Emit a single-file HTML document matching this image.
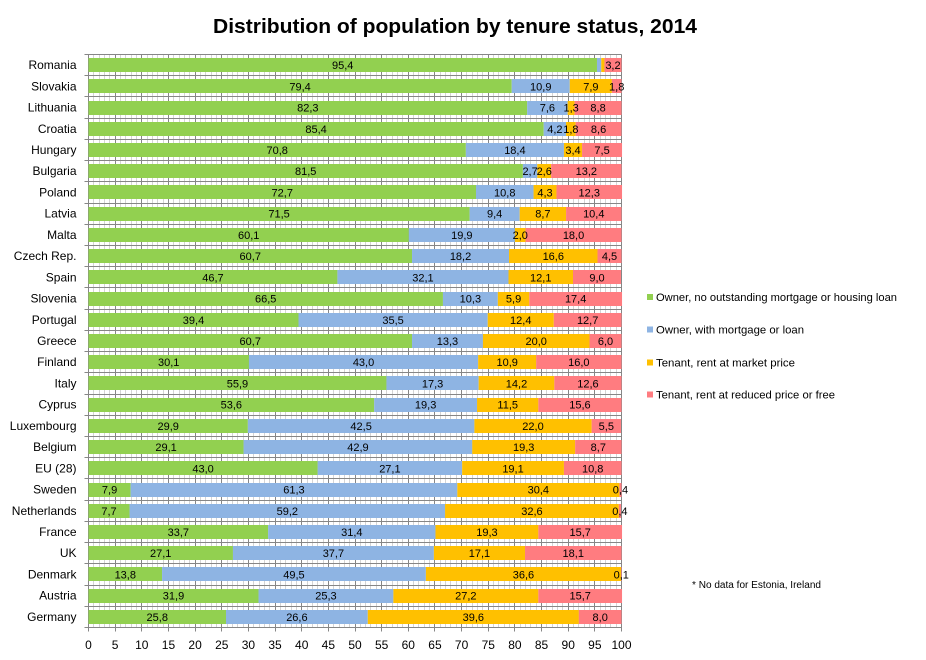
<!DOCTYPE html>
<html lang="en">
<head>
<meta charset="utf-8">
<title>Distribution of population by tenure status, 2014</title>
<style>
html,body{margin:0;padding:0;background:#fff;}
#chart{display:block;width:926px;height:660px;font-family:"Liberation Sans",sans-serif;}
</style>
</head>
<body>
<svg id="chart" xmlns="http://www.w3.org/2000/svg" width="926" height="660" viewBox="0 0 926 660"></svg>
<script>
const categories = ["Romania","Slovakia","Lithuania","Croatia","Hungary","Bulgaria","Poland","Latvia","Malta","Czech Rep.","Spain","Slovenia","Portugal","Greece","Finland","Italy","Cyprus","Luxembourg","Belgium","EU (28)","Sweden","Netherlands","France","UK","Denmark","Austria","Germany"];
const ownerOutright = [95.4,79.4,82.3,85.4,70.8,81.5,72.7,71.5,60.1,60.7,46.7,66.5,39.4,60.7,30.1,55.9,53.6,29.9,29.1,43.0,7.9,7.7,33.7,27.1,13.8,31.9,25.8];
const ownerMortgage = [0.8,10.9,7.6,4.2,18.4,2.7,10.8,9.4,19.9,18.2,32.1,10.3,35.5,13.3,43.0,17.3,19.3,42.5,42.9,27.1,61.3,59.2,31.4,37.7,49.5,25.3,26.6];
const tenantMarket = [0.6,7.9,1.3,1.8,3.4,2.6,4.3,8.7,2.0,16.6,12.1,5.9,12.4,20.0,10.9,14.2,11.5,22.0,19.3,19.1,30.4,32.6,19.3,17.1,36.6,27.2,39.6];
const tenantReduced = [3.2,1.8,8.8,8.6,7.5,13.2,12.3,10.4,18.0,4.5,9.0,17.4,12.7,6.0,16.0,12.6,15.6,5.5,8.7,10.8,0.4,0.4,15.7,18.1,0.1,15.7,8.0];
const seriesNames = ["Owner, no outstanding mortgage or housing loan","Owner, with mortgage or loan","Tenant, rent at market price","Tenant, rent at reduced price or free"];
const xTickLabels = [0,5,10,15,20,25,30,35,40,45,50,55,60,65,70,75,80,85,90,95,100];
const xMinorTicks = [0,1,2,3,4,5,6,7,8,9,10,11,12,13,14,15,16,17,18,19,20,21,22,23,24,25,26,27,28,29,30,31,32,33,34,35,36,37,38,39,40,41,42,43,44,45,46,47,48,49,50,51,52,53,54,55,56,57,58,59,60,61,62,63,64,65,66,67,68,69,70,71,72,73,74,75,76,77,78,79,80,81,82,83,84,85,86,87,88,89,90,91,92,93,94,95,96,97,98,99,100];
const unlabelledCells = ["Romania|1","Romania|2"];
const seriesValues = [ownerOutright, ownerMortgage, tenantMarket, tenantReduced];
const seriesColors = ["#92D050","#8EB4E3","#FFC000","#FF7C80"];
const seriesKeys = ["owner-outright","owner-mortgage","tenant-market","tenant-reduced"];

const NS = "http://www.w3.org/2000/svg";
const svg = document.getElementById("chart");
const plotLeft = 88.5, plotRight = 621.5, plotTop = 54.5, plotBottom = 627.5;
const bandHeight = (plotBottom - plotTop) / categories.length;
const barHeight = 14;

function xScale(v) { return plotLeft + (plotRight - plotLeft) * v / 100; }
function yBand(i) { return plotTop + bandHeight * i; }
function snap(p) { return Math.round(p - 0.5) + 0.5; }
function make(tag, props, text) {
  const el = document.createElementNS(NS, tag);
  for (const k in props) el.setAttribute(k, props[k]);
  if (text !== undefined) el.textContent = text;
  svg.appendChild(el);
  return el;
}

// Title
const title = make("text", {x:213, y:33, "font-size":20, "font-weight":"bold", fill:"#000", textLength:484, lengthAdjust:"spacingAndGlyphs"}, "Distribution of population by tenure status, 2014");



// Minor vertical gridlines
xMinorTicks.forEach(function (t) {
  if (t % 5 === 0) return;
  const line = make("line", {x1:snap(xScale(t)), x2:snap(xScale(t)), y1:plotTop, y2:plotBottom, stroke:"#d4d4d4", "stroke-width":1});
  
  
});

// Major horizontal gridlines and category ticks
for (let i = 0; i <= categories.length; i++) {
  const y = snap(yBand(i));
  const line = make("line", {x1:plotLeft - 4, x2:plotRight, y1:y, y2:y, stroke:"#868686", "stroke-width":1});
  
  
}

// Major vertical gridlines, ticks and labels
xTickLabels.forEach(function (t) {
  const x = snap(xScale(t));
  const line = make("line", {x1:x, x2:x, y1:plotTop, y2:plotBottom + 4, stroke:"#868686", "stroke-width":1});
  
  
  const label = make("text", {x:xScale(t), y:649, "font-size":12, "text-anchor":"middle", fill:"#000"}, String(t));
  
  
});

// Category labels
categories.forEach(function (c, i) {
  const label = make("text", {x:76.5, y:yBand(i) + bandHeight / 2 + 4, "font-size":12, "text-anchor":"end", fill:"#000"}, c);
  
  
});

// Stacked bars
categories.forEach(function (c, i) {
  let cum = 0;
  const top = Math.round(yBand(i) + (bandHeight - barHeight) / 2);
  seriesValues.forEach(function (vals, s) {
    const v = vals[i];
    const x0 = xScale(cum), x1 = xScale(cum + v);
    const bar = make("rect", {x:x0, y:top, width:x1 - x0, height:barHeight, fill:seriesColors[s]});
    
    
    cum += v;
  });
});

// Value labels (drawn after all bars so overflow stays on top)
categories.forEach(function (c, i) {
  let cum = 0;
  const mid = yBand(i) + bandHeight / 2 + 4;
  seriesValues.forEach(function (vals, s) {
    const v = vals[i];
    if (unlabelledCells.indexOf(c + "|" + s) < 0) {
      const label = make("text", {x:xScale(cum + v / 2), y:mid, "font-size":11, "text-anchor":"middle", fill:"#000"}, v.toFixed(1).replace(".", ","));
      
      
    }
    cum += v;
  });
});

// Legend
const legendMidY = [297, 329.5, 362.5, 394.5];
const legendWidths = [241, 148, 139, 179];
seriesNames.forEach(function (name, s) {
  const swatch = make("rect", {x:647, y:legendMidY[s] - 3, width:6, height:6, fill:seriesColors[s]});
  
  
  const label = make("text", {x:656, y:legendMidY[s] + 4, "font-size":11, fill:"#000", textLength:legendWidths[s], lengthAdjust:"spacingAndGlyphs"}, name);
  
  
});

// Footnote
const note = make("text", {x:692, y:588, "font-size":10, fill:"#000", textLength:129, lengthAdjust:"spacingAndGlyphs"}, "* No data for Estonia, Ireland");


</script>
</body>
</html>
